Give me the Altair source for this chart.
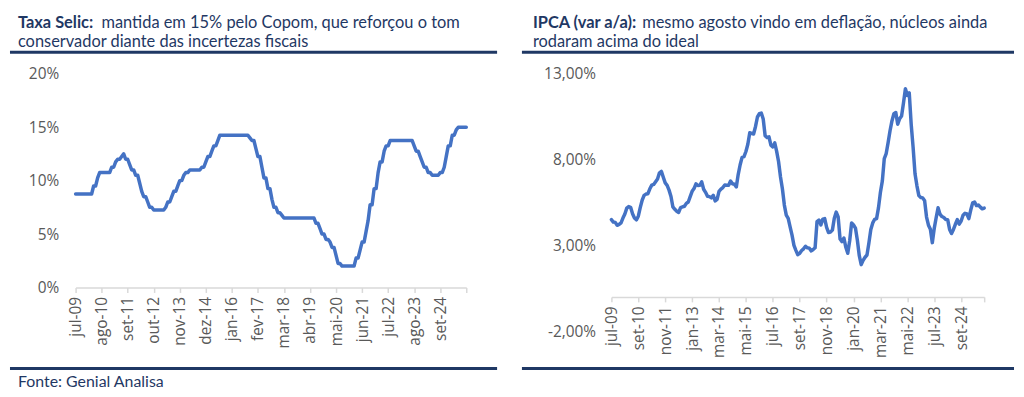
import altair as alt
import pandas as pd

meses = ["jan", "fev", "mar", "abr", "mai", "jun", "jul", "ago", "set", "out", "nov", "dez"]


def month_labels(n):
    out = []
    for i in range(n):
        m = (6 + i) % 12
        y = 9 + (6 + i) // 12
        out.append(f"{meses[m]}-{y:02d}")
    return out


# Selic (% a.a.), jul-09 .. out-25
selic = [
    8.75, 8.75, 8.75, 8.75, 8.75, 8.75,
    8.75, 8.75, 8.75, 9.50, 9.50, 10.25, 10.75, 10.75, 10.75, 10.75, 10.75, 10.75,
    11.25, 11.25, 11.75, 12.00, 12.00, 12.25, 12.50, 12.00, 12.00, 11.50, 11.00, 11.00,
    10.50, 10.50, 9.75, 9.00, 8.50, 8.50, 8.00, 7.50, 7.50, 7.25, 7.25, 7.25,
    7.25, 7.25, 7.25, 7.50, 8.00, 8.00, 8.50, 9.00, 9.00, 9.50, 10.00, 10.00,
    10.50, 10.75, 10.75, 11.00, 11.00, 11.00, 11.00, 11.00, 11.00, 11.25, 11.25, 11.75,
    12.25, 12.25, 12.75, 13.25, 13.25, 13.75, 14.25, 14.25, 14.25, 14.25, 14.25, 14.25,
    14.25, 14.25, 14.25, 14.25, 14.25, 14.25, 14.25, 14.25, 14.25, 14.00, 13.75, 13.75,
    13.00, 12.25, 12.25, 11.25, 10.25, 10.25, 9.25, 9.25, 8.25, 7.50, 7.50, 7.00,
    7.00, 6.75, 6.50, 6.50, 6.50, 6.50, 6.50, 6.50, 6.50, 6.50, 6.50, 6.50,
    6.50, 6.50, 6.50, 6.50, 6.50, 6.50, 6.00, 6.00, 5.50, 5.00, 5.00, 4.50,
    4.50, 4.25, 3.75, 3.75, 3.00, 2.25, 2.25, 2.00, 2.00, 2.00, 2.00, 2.00,
    2.00, 2.00, 2.75, 2.75, 3.50, 4.25, 4.25, 5.25, 6.25, 7.75, 7.75, 9.25,
    9.25, 10.75, 11.75, 11.75, 12.75, 13.25, 13.25, 13.75, 13.75, 13.75, 13.75, 13.75,
    13.75, 13.75, 13.75, 13.75, 13.75, 13.75, 13.75, 13.25, 12.75, 12.75, 12.25, 11.75,
    11.25, 11.25, 10.75, 10.75, 10.50, 10.50, 10.50, 10.50, 10.75, 10.75, 11.25, 12.25,
    13.25, 13.25, 14.25, 14.25, 14.75, 15.00, 15.00, 15.00, 15.00, 15.00,
]

# IPCA acumulado 12 meses (%), jul-09 .. set-25
ipca = [
    4.50, 4.36, 4.34, 4.17, 4.22, 4.31,
    4.59, 4.83, 5.17, 5.26, 5.22, 4.84, 4.60, 4.49, 4.70, 5.20, 5.63, 5.91,
    5.99, 6.01, 6.30, 6.51, 6.55, 6.71, 6.87, 7.23, 7.31, 6.97, 6.64, 6.50,
    6.22, 5.85, 5.24, 5.10, 4.99, 4.92, 5.20, 5.24, 5.28, 5.45, 5.53, 5.84,
    6.15, 6.31, 6.59, 6.49, 6.50, 6.70, 6.27, 6.09, 5.86, 5.84, 5.77, 5.91,
    5.59, 5.68, 6.15, 6.28, 6.37, 6.52, 6.50, 6.51, 6.75, 6.59, 6.56, 6.41,
    7.14, 7.70, 8.13, 8.17, 8.47, 8.89, 9.56, 9.53, 9.49, 9.93, 10.48, 10.67,
    10.71, 10.36, 9.39, 9.28, 9.32, 8.84, 8.74, 8.97, 8.48, 7.87, 6.99, 6.29,
    5.35, 4.76, 4.57, 4.08, 3.60, 3.00, 2.71, 2.46, 2.54, 2.70, 2.80, 2.95,
    2.86, 2.84, 2.68, 2.76, 2.86, 4.39, 4.48, 4.19, 4.53, 4.56, 4.05, 3.75,
    3.78, 3.89, 4.58, 4.94, 4.66, 3.37, 3.22, 3.43, 2.89, 2.54, 3.27, 4.31,
    4.19, 4.01, 3.30, 2.40, 1.88, 2.13, 2.31, 2.44, 3.14, 3.92, 4.31, 4.52,
    4.56, 5.20, 6.10, 6.76, 8.06, 8.35, 8.99, 9.68, 10.25, 10.67, 10.74, 10.06,
    10.38, 10.54, 11.30, 12.13, 11.73, 11.89, 10.07, 8.73, 7.17, 6.47, 5.90, 5.79,
    5.77, 5.60, 4.65, 4.18, 3.94, 3.16, 3.99, 4.61, 5.19, 4.82, 4.68, 4.62,
    4.51, 4.50, 3.93, 3.69, 3.93, 4.23, 4.50, 4.24, 4.42, 4.76, 4.87, 4.83,
    4.56, 5.06, 5.48, 5.53, 5.32, 5.35, 5.23, 5.13, 5.17,
]

selic_ticks = ["jul-09", "ago-10", "set-11", "out-12", "nov-13", "dez-14", "jan-16", "fev-17",
               "mar-18", "abr-19", "mai-20", "jun-21", "jul-22", "ago-23", "set-24", "out-25"]
ipca_ticks = ["jul-09", "set-10", "nov-11", "jan-13", "mar-14", "mai-15", "jul-16", "set-17",
              "nov-18", "jan-20", "mar-21", "mai-22", "jul-23", "set-24", "set-25"]

selic_y_ticks = [0, 5, 10, 15, 20]
ipca_y_ticks = [-2, 3, 8, 13]

titulo_selic = ["Taxa Selic:", "mantida em 15% pelo Copom, que reforçou o tom",
                "conservador diante das incertezas fiscais"]
titulo_ipca = ["IPCA (var a/a):", "mesmo agosto vindo em deflação, núcleos ainda",
               "rodaram acima do ideal"]
fonte = "Fonte: Genial Analisa"

df_selic = pd.DataFrame({"mes": month_labels(len(selic)), "valor": selic})
df_ipca = pd.DataFrame({"mes": month_labels(len(ipca)), "valor": ipca})

NAVY = "#1F3864"
LINE = "#4472C4"
GRAY = "#595959"
AX = "#D9D9D9"
TFONT = "Lato"
AFONT = "Open Sans"
AXSIZE = 15.5
TSIZE = 16.5

one = pd.DataFrame({"k": [0]})


def txt(s, x, y, bold=False, size=TSIZE):
    return alt.Chart(one).mark_text(
        text=s, align="left", baseline="alphabetic", font=TFONT, fontSize=size,
        fontWeight="bold" if bold else "normal", color=NAVY,
    ).encode(x=alt.value(x), y=alt.value(y))


def rule(x1, x2, y):
    return alt.Chart(one).mark_rule(color=NAVY, strokeWidth=3).encode(
        x=alt.value(x1), x2=alt.value(x2), y=alt.value(y))


def xaxis(ticks, end_label, offset=0):
    return alt.Axis(
        values=ticks, labelExpr=f"datum.value == '{end_label}' ? '' : datum.value",
        labelAngle=-90, labelFont=AFONT, labelFontSize=AXSIZE, labelColor=GRAY,
        labelPadding=4, domainColor=AX, domainWidth=1.5, tickColor=AX, tickSize=5,
        tickWidth=1.5, grid=False, title=None, offset=offset, labelOverlap=False,
    )


W_L, H_L = 393, 215
W_R, H_R = 375, 259

left_line = alt.Chart(df_selic).mark_line(
    color=LINE, strokeWidth=3.5, strokeJoin="round", strokeCap="round"
).encode(
    x=alt.X("mes:O", sort=None, scale=alt.Scale(type="point", padding=0),
            axis=xaxis(selic_ticks, "out-25")),
    y=alt.Y("valor:Q", scale=alt.Scale(domain=[0, 20], nice=False),
            axis=alt.Axis(values=selic_y_ticks, labelExpr="datum.value + '%'",
                          domain=False, ticks=False, grid=False, title=None,
                          labelPadding=17, labelFont=AFONT, labelFontSize=AXSIZE,
                          labelColor=GRAY)),
)

y0 = H_R * 13 / 15
right_line = alt.Chart(df_ipca).mark_line(
    color=LINE, strokeWidth=3.5, strokeJoin="round", strokeCap="round"
).encode(
    x=alt.X("mes:O", sort=None, scale=alt.Scale(type="point", padding=0),
            axis=xaxis(ipca_ticks, "set-25", offset=-(H_R - y0))),
    y=alt.Y("valor:Q", scale=alt.Scale(domain=[-2, 13], nice=False),
            axis=alt.Axis(values=ipca_y_ticks,
                          labelExpr="(datum.value < 0 ? '-' : '') + replace(format(abs(datum.value), '.2f'), '.', ',') + '%'",
                          domain=False, ticks=False, grid=False, title=None,
                          labelPadding=16, labelFont=AFONT, labelFontSize=AXSIZE,
                          labelColor=GRAY)),
)

left = alt.layer(
    left_line,
    txt(titulo_selic[0], -58, -46.3, bold=True),
    txt(titulo_selic[1], 26, -46.3),
    txt(titulo_selic[2], -58, -27.3),
    rule(-66, 424, -21.7),
    rule(-66, 424, 296.5),
    txt(fonte, -58, 315.3, size=16),
).properties(width=W_L, height=H_L)

right = alt.layer(
    right_line,
    txt(titulo_ipca[0], -79, -46.3, bold=True),
    txt(titulo_ipca[1], 31, -46.3),
    txt(titulo_ipca[2], -79, -27.3),
    rule(-90, 405, -21.7),
    rule(-90, 405, 296.5),
).properties(width=W_R, height=H_R)

chart = alt.hconcat(left, right, spacing=21).properties(
    padding={"left": 0, "top": 5, "right": 0, "bottom": 0},
    background="white",
).configure_view(stroke=None)

chart.save("out.html", embed_options={"renderer": "svg", "actions": False})
